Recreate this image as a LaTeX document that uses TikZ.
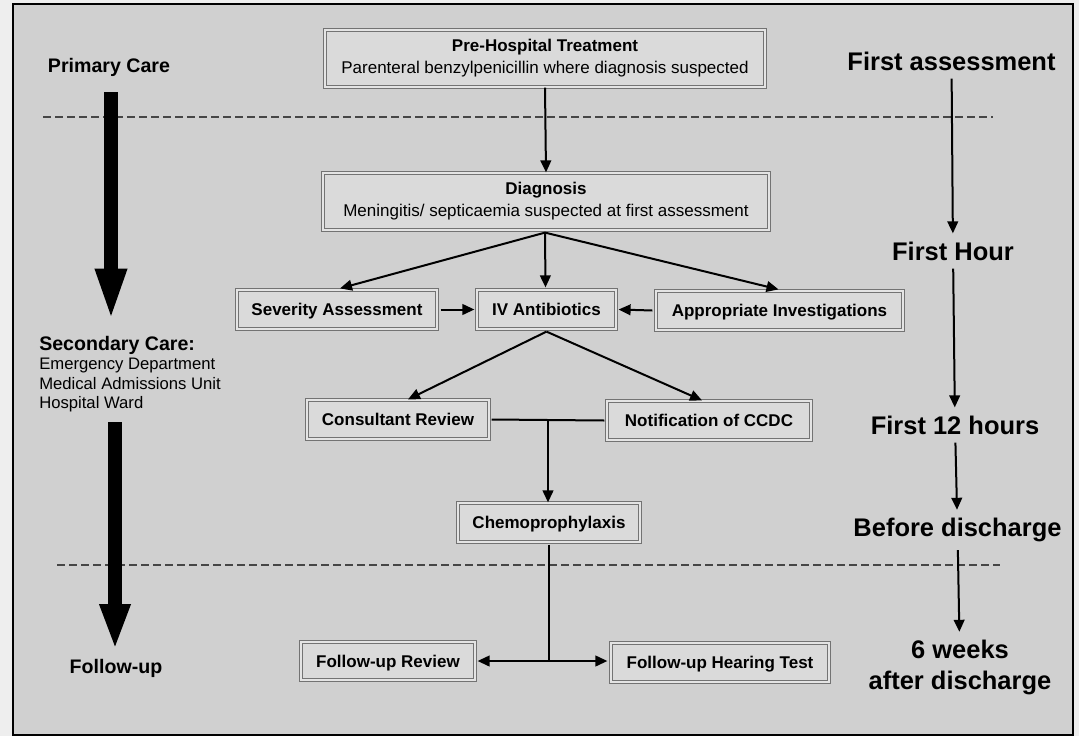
\documentclass[tikz,border=0pt]{standalone}
\usepackage{fontspec}
\setmainfont{Liberation Sans}
\usetikzlibrary{arrows.meta,calc}
\definecolor{bgpage}{RGB}{238,238,238}
\definecolor{bgpanel}{RGB}{208,208,208}
\definecolor{boxfill}{RGB}{218,218,218}
\definecolor{boxline}{RGB}{115,115,115}
\definecolor{boxgap}{RGB}{228,228,228}
\definecolor{dashcol}{RGB}{70,70,70}
\begin{document}
\begin{tikzpicture}[x=0.75pt,y=-0.75pt,
  box/.style={draw=boxline, line width=0.9pt, double=boxgap, double distance=1.2pt,
    fill=boxfill, inner sep=0pt, align=center,
    font=\fontsize{12.75}{16.5}\selectfont\bfseries},
  onebox/.style={box, text depth=0pt},
  flow/.style={line width=1.5pt, -{Triangle[length=9pt,width=8pt]}},
  plainline/.style={line width=1.5pt},
  bigarrow/.style={line width=10.5pt, -{Triangle[length=40pt,width=21pt]}},
  timelbl/.style={inner sep=6pt, align=center,
    font=\fontsize{19.1}{23.25}\selectfont\bfseries},
  sidebold/.style={inner sep=0pt, font=\fontsize{14.7}{17}\selectfont\bfseries},
  sidereg/.style={inner sep=0pt, font=\fontsize{12.5}{15}\selectfont},
  dashline/.style={dashcol, line width=0.9pt, dash pattern=on 6pt off 3pt}
]
% page and frame
\fill[bgpage] (0,0) rectangle (1079,736);
\useasboundingbox (0,0) rectangle (1079,736);
\draw[black, line width=0.9pt, fill=bgpanel] (13,4) rectangle (1073,735);

% dashed separators
\coordinate (da1) at (43,117);
\coordinate (da2) at (993,117);
\coordinate (db1) at (57,565);
\coordinate (db2) at (1000,565);
\draw[dashline] (da1) -- (da2);
\draw[dashline] (db1) -- (db2);

% central flow boxes
\node[box, minimum width=330pt, minimum height=42.75pt] (pre) at (545,58.5)
  {Pre-Hospital Treatment\\\mdseries Parenteral benzylpenicillin where diagnosis suspected};
\node[box, minimum width=334.5pt, minimum height=42.75pt] (diag) at (546,201.5)
  {Diagnosis\\\mdseries Meningitis/ septicaemia suspected at first assessment};
\node[onebox, minimum width=150pt, minimum height=29.25pt] (sev) at (337,309.5) {Severity Assessment};
\node[onebox, minimum width=104.25pt, minimum height=29.25pt] (iv) at (546.5,309.5) {IV Antibiotics};
\node[onebox, minimum width=185.25pt, minimum height=29.25pt] (app) at (779.5,310.5) {Appropriate Investigations};
\node[onebox, minimum width=136.5pt, minimum height=29.25pt] (cons) at (398,419.5) {Consultant Review};
\node[onebox, minimum width=153pt, minimum height=29.25pt] (notif) at (709,420.5) {Notification of CCDC};
\node[onebox, minimum width=136.5pt, minimum height=29.25pt] (chemo) at (549,522.5) {Chemoprophylaxis};
\node[onebox, minimum width=130.5pt, minimum height=28.5pt] (fur) at (388,661) {Follow-up Review};
\node[onebox, minimum width=163.5pt, minimum height=29.25pt] (fuh) at (720,662.5) {Follow-up Hearing Test};

% flow connectors
\draw[flow] (pre.south) -- (diag.north);
\draw[flow] ($(diag.south)+(-1,2)$) -- ($(sev.north)+(3,-1)$);
\draw[flow] ($(diag.south)+(-1,2)$) -- ($(iv.north)+(-1,-2)$);
\draw[flow] ($(diag.south)+(-1,2)$) -- ($(app.north)+(-1,-1)$);
\draw[flow] ($(sev.east)+(3,0)$) -- ($(iv.west)+(-2,0)$);
\draw[flow] ($(app.west)+(-3,0)$) -- ($(iv.east)+(2,0)$);
\draw[flow] ($(iv.south)+(0,2)$) -- ($(cons.north)+(10,0)$);
\draw[flow] ($(iv.south)+(0,2)$) -- ($(notif.north)+(-7,0)$);
\coordinate (j1) at ($(cons.east)!0.5!(notif.west)$);
\draw[plainline] ($(cons.east)+(2,0)$) -- ($(notif.west)+(-2,0)$);
\draw[flow] (j1) -- (j1 |- chemo.north);
\coordinate (j2) at (chemo.south |- fur.east);
\draw[plainline] ($(chemo.south)+(0,2)$) -- (j2);
\draw[flow] (j2) -- ($(fur.east)+(2,0)$);
\draw[flow] (j2) -- ($(j2 -| fuh.west)+(-3,0)$);

% left-hand care stages
\node[sidebold] (prim) at (109,67.5) {Primary Care};
\node[sidebold, anchor=base west] (sec1) at (39,350) {Secondary Care:};
\node[sidereg, anchor=base west] (sec2) at (39,369.5) {Emergency Department};
\node[sidereg, anchor=base west] (sec3) at (39,389.5) {Medical Admissions Unit};
\node[sidereg, anchor=base west] (sec4) at (39,408.5) {Hospital Ward};
\node[sidebold] (fol) at (116,668) {Follow-up};
\coordinate (ba1s) at (111,92);
\coordinate (ba1e) at (111,322);
\coordinate (ba2s) at (115,422);
\coordinate (ba2e) at (115,650);
\draw[bigarrow] (ba1s) -- (ba1e);
\draw[bigarrow, -{Triangle[length=34.5pt,width=21pt]}] (ba2s) -- (ba2e);

% right-hand timeline
\node[timelbl] (t1) at (951.5,61) {First assessment};
\node[timelbl] (t2) at (953,251) {First Hour};
\node[timelbl] (t3) at (955,425) {First 12 hours};
\node[timelbl] (t4) at (957.5,530) {Before discharge};
\node[timelbl] (t5) at (960,667.5) {6 weeks\\after discharge};
\draw[flow] (t1) -- (t2);
\draw[flow] (t2) -- (t3);
\draw[flow] (t3) -- (t4);
\draw[flow] (t4) -- (t5);
\end{tikzpicture}
\end{document}
